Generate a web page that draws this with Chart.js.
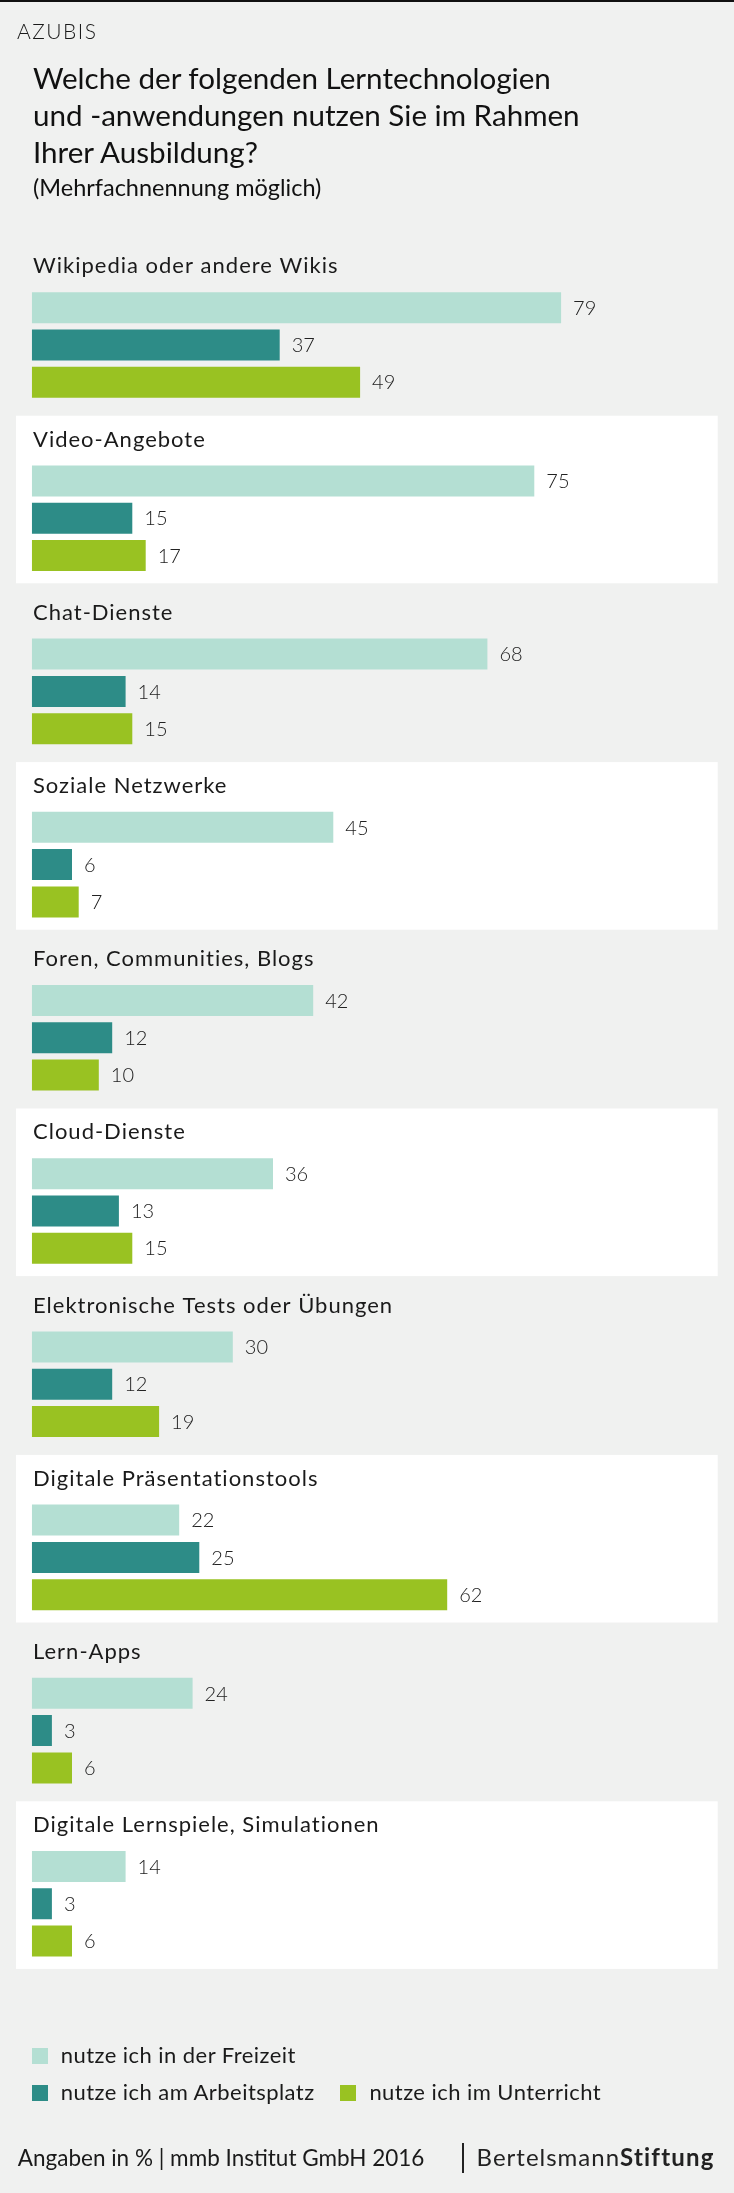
<!DOCTYPE html>
<html><head><meta charset="utf-8">
<script src="https://cdn.jsdelivr.net/npm/chart.js@4.4.1/dist/chart.umd.min.js"></script>
<style>
html,body{margin:0;padding:0;}
body{width:734px;height:2193px;background:#f0f1f0;position:relative;overflow:hidden;font-family:Lato,'Open Sans',sans-serif;color:#1a1a1a;}
#topline{position:absolute;left:0;top:0;width:734px;height:2px;background:#111;}
.t{position:absolute;white-space:nowrap;}
#cv{position:absolute;left:0;top:0;}
.sq{position:absolute;width:16px;height:16px;}
</style></head><body>
<canvas id="cv" width="734" height="2193"></canvas>
<div id="topline"></div>
<div class="t" style="left:17px;top:18.2px;font-size:21px;line-height:25.2px;font-weight:300;letter-spacing:1.5px;">AZUBIS</div>
<div class="t" style="left:33px;top:59.4px;font-size:29.6px;line-height:37px;font-weight:400;color:#111;">Welche der folgenden Lerntechnologien<br>und -anwendungen nutzen Sie im Rahmen<br>Ihrer Ausbildung?</div>
<div class="t" style="left:33px;top:173.4px;font-size:23.5px;line-height:28.2px;font-weight:400;color:#111;">(Mehrfachnennung möglich)</div>
<div id="legend"></div>
<div class="t" style="left:17.8px;top:2144.4px;font-size:22.5px;line-height:27px;font-weight:400;">Angaben in % | mmb Institut GmbH 2016</div>
<div style="position:absolute;left:461.5px;top:2142.7px;width:2px;height:30.6px;background:#222;"></div>
<div class="t" style="left:476.6px;top:2142.9px;font-size:24px;line-height:28.8px;color:#222;"><span style="font-weight:400;letter-spacing:1px;">Bertelsmann</span><span style="font-weight:700;letter-spacing:1.2px;">Stiftung</span></div>
<script>
const categories = [
  "Wikipedia oder andere Wikis",
  "Video-Angebote",
  "Chat-Dienste",
  "Soziale Netzwerke",
  "Foren, Communities, Blogs",
  "Cloud-Dienste",
  "Elektronische Tests oder Übungen",
  "Digitale Präsentationstools",
  "Lern-Apps",
  "Digitale Lernspiele, Simulationen"
];
const seriesLabels = ["nutze ich in der Freizeit", "nutze ich am Arbeitsplatz", "nutze ich im Unterricht"];
const seriesColors = ["#b4dfd3", "#2d8c87", "#99c222"];
const freizeit     = [79, 75, 68, 45, 42, 36, 30, 22, 24, 14];
const arbeitsplatz = [37, 15, 14, 6, 12, 13, 12, 25, 3, 3];
const unterricht   = [49, 17, 15, 7, 10, 15, 19, 62, 6, 6];
const seriesValues = [freizeit, arbeitsplatz, unterricht];

// legend (HTML)
const legendPos = [[31.7, 2048.2], [31.7, 2085.2], [340.4, 2085.2]];
const lg = document.getElementById('legend');
seriesLabels.forEach((lab, i) => {
  const sq = document.createElement('div');
  sq.className = 'sq';
  sq.style.left = legendPos[i][0] + 'px';
  sq.style.top = legendPos[i][1] + 'px';
  sq.style.background = seriesColors[i];
  lg.appendChild(sq);
  const tx = document.createElement('div');
  tx.className = 't';
  tx.style.left = (legendPos[i][0] + 29) + 'px';
  tx.style.top = (legendPos[i][1] - 6) + 'px';
  tx.style.fontSize = '22px';
  tx.style.lineHeight = '26.4px';
  tx.style.fontWeight = '400';
  tx.style.letterSpacing = '0.45px';
  tx.textContent = lab;
  lg.appendChild(tx);
});

const groupPlugin = {
  id: 'groups',
  beforeDatasetsDraw(chart) {
    const ctx = chart.ctx, y = chart.scales.y;
    ctx.save();
    categories.forEach((c, i) => {
      const cy = y.getPixelForValue(i);
      if (i % 2 === 1) {
        ctx.fillStyle = '#ffffff';
        ctx.fillRect(16, cy - 102.5, 701.7, 167.6);
      }
      ctx.fillStyle = '#1a1a1a';
      ctx.font = '400 22px Lato';
      ctx.letterSpacing = '1px';
      ctx.textBaseline = 'alphabetic';
      ctx.textAlign = 'left';
      ctx.fillText(c, 33, cy - 71.7);
    });
    ctx.restore();
  },
  afterDatasetsDraw(chart) {
    const ctx = chart.ctx;
    ctx.save();
    ctx.fillStyle = '#222';
    ctx.font = '300 20px Lato';
    ctx.textBaseline = 'alphabetic';
    ctx.textAlign = 'left';
    chart.data.datasets.forEach((ds, di) => {
      const meta = chart.getDatasetMeta(di);
      meta.data.forEach((el, i) => {
        ctx.fillText(String(ds.data[i]), el.x + 12, el.y + 7.2);
      });
    });
    ctx.restore();
  }
};

new Chart(document.getElementById('cv'), {
  type: 'bar',
  data: {
    labels: categories,
    datasets: seriesValues.map((vals, i) => ({
      label: seriesLabels[i],
      data: vals,
      backgroundColor: seriesColors[i],
      borderWidth: 0,
      categoryPercentage: 0.646,
      barPercentage: 0.831
    }))
  },
  options: {
    indexAxis: 'y',
    responsive: false,
    animation: false,
    devicePixelRatio: 1,
    layout: { padding: { left: 31.8, right: 32.2, top: 258.4, bottom: 202.6 } },
    scales: {
      x: { min: 0, max: 100, display: false },
      y: { display: false, offset: true }
    },
    plugins: { legend: { display: false }, tooltip: { enabled: false } }
  },
  plugins: [groupPlugin]
});
</script>
</body></html>
